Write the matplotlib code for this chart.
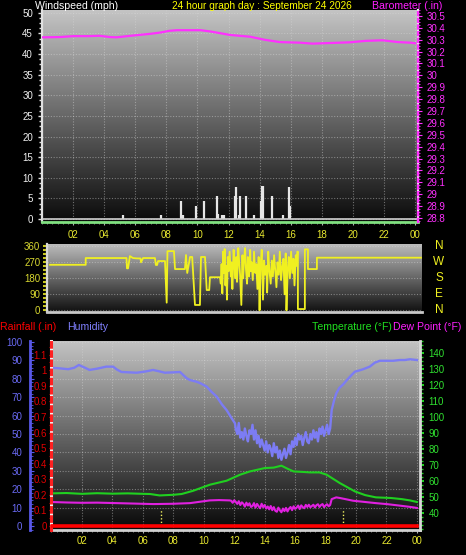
import numpy as np
import matplotlib.pyplot as plt
from matplotlib.colors import LinearSegmentedColormap
from matplotlib.ticker import MultipleLocator, FuncFormatter
from matplotlib.transforms import blended_transform_factory

W, H = 466, 555

# ---- data ------------------------------------------------------------------
hour_ticks = [2, 4, 6, 8, 10, 12, 14, 16, 18, 20, 22, 24]
hour_labels = ['02', '04', '06', '08', '10', '12', '14', '16', '18', '20', '22', '00']

# wind gusts (mph)
gust_hours = [5.19, 7.65, 8.92, 9.07, 9.88, 10.4, 11.25, 11.34, 11.6, 11.7, 12.41, 12.48,
              12.65, 12.71, 13.1, 13.61, 14.06, 14.15, 14.2, 14.77, 15.48, 15.87, 15.95]
gust_speed = [1, 1, 4.4, 1, 3.2, 4.4, 5.6, 1.2, 1, 1, 5.6, 7.8,
              1, 5.6, 5.6, 1, 4.4, 8, 8, 5.6, 1, 7.8, 3.2]

# barometer (in)
baro_hours = [0, 1.1, 2.0, 3.0, 3.7, 4.4, 4.8, 5.7, 7.0, 7.6, 8.2, 8.7, 10.2, 10.8, 12.1,
              13.4, 14.3, 15.3, 16.6, 17.4, 18.5, 19.8, 20.8, 21.9, 22.9, 23.7, 24.0]
baro = [30.32, 30.322, 30.33, 30.33, 30.333, 30.322, 30.32, 30.333, 30.35, 30.36, 30.375,
        30.38, 30.38, 30.37, 30.34, 30.325, 30.30, 30.28, 30.275, 30.267, 30.272, 30.278,
        30.29, 30.295, 30.28, 30.275, 30.27]

# wind direction (deg)
wind_hours = [0.0, 2.31, 2.31, 4.95, 4.98, 5.05, 5.17, 5.37, 5.63, 5.85, 5.89, 6.02, 6.79,
              6.85, 6.93, 6.99, 7.44, 7.55, 7.60, 8.02, 8.09, 8.73, 8.80, 8.88, 9.06, 9.20,
              9.38, 9.70, 9.77, 10.03, 10.14, 10.30, 10.35, 11.00,
              11.05, 11.10, 11.15, 11.20, 11.25, 11.30, 11.35, 11.40, 11.45, 11.50, 11.55,
              11.62, 11.70, 11.75, 11.80, 11.88, 11.95, 12.00, 12.05, 12.10, 12.18, 12.25,
              12.30, 12.38, 12.45, 12.50, 12.55, 12.62, 12.68, 12.75, 12.80, 12.88, 12.95,
              13.00, 13.05, 13.12, 13.20, 13.28, 13.35, 13.42, 13.50, 13.56, 13.62, 13.70,
              13.78, 13.85, 13.92, 14.00, 14.05, 14.12, 14.20, 14.28, 14.35, 14.42, 14.50,
              14.57, 14.65, 14.72, 14.80, 14.87, 14.95, 15.02, 15.10, 15.18, 15.25, 15.30,
              15.38, 15.45, 15.52, 15.60, 15.68, 15.75, 15.82, 15.90, 15.96, 16.00, 16.04,
              16.04, 16.49, 16.49, 16.69, 16.69, 17.27, 17.27, 24.0]
wind_dir = [256, 256, 294, 294, 236, 236, 305, 294, 292, 292, 270, 294, 294,
            255, 255, 277, 277, 43, 333, 333, 232, 232, 311, 210, 300, 300,
            30, 30, 300, 300, 114, 114, 186, 186,
            150, 260, 95, 330, 210, 345, 140, 250, 60, 300, 220,
            330, 190, 270, 120, 340, 240, 180, 300, 160, 350, 260,
            200, 30, 310, 180, 280, 350, 230, 150, 300, 190, 340,
            220, 270, 170, 330, 210, 260, 120, 300, 0, 250, 340,
            60, 280, 200, 250, 100, 330, 220, 150, 280, 190, 310,
            230, 130, 270, 200, 330, 170, 240, 290, 90, 320, 0,
            230, 300, 180, 330, 210, 290, 140, 310, 250, 330, 330,
            7, 7, 343, 343, 232, 232, 296, 296]
compass_labels = ['N', 'W', 'S', 'E', 'N']
compass_deg = [360, 270, 180, 90, 0]

# humidity (%)
hum_hours = [0, 0.5, 1.1, 1.5, 1.8, 2.2, 2.5, 3.0, 3.6, 4.05, 4.3, 4.6, 5.1, 5.6, 6.2, 6.67,
             7.0, 7.45, 8.0, 8.44, 8.88, 9.1, 9.53, 9.8, 10.2, 10.5, 10.85, 11.2, 11.5, 11.8,
             12.05, 12.1, 12.2, 12.3, 12.4, 12.5, 12.6, 12.7, 12.8, 12.9, 13.0, 13.1, 13.2,
             13.3, 13.4, 13.5, 13.6, 13.7, 13.8, 13.9, 14.0, 14.1, 14.2, 14.3, 14.4, 14.5,
             14.6, 14.7, 14.8, 14.9, 15.0, 15.1, 15.2, 15.3, 15.4, 15.5, 15.6, 15.7, 15.8,
             15.9, 16.0, 16.1, 16.2, 16.3, 16.4, 16.5, 16.6, 16.7, 16.8, 16.9, 17.0, 17.1,
             17.2, 17.3, 17.4, 17.5, 17.6, 17.7, 17.8, 17.9, 18.0, 18.1, 18.2, 18.3,
             18.4, 18.55, 18.7, 18.9, 19.16, 19.4, 19.7, 19.93, 20.2, 20.47, 20.9, 21.24,
             21.57, 22.0, 22.44, 22.88, 23.2, 23.54, 24.0]
humidity = [86, 85.7, 85.2, 86, 87.5, 86, 84.8, 85.5, 86.6, 86.6, 85, 83.7, 83.5, 83.3, 84,
            84.8, 84.2, 83.3, 83.5, 83.7, 80.3, 79.3, 78.4, 77.5, 75.7, 73, 70.3, 66, 63, 59,
            55.8, 53, 50, 56, 48, 51, 47, 53, 49, 46, 52, 50, 55,
            47, 52, 45, 49, 43, 47, 44, 41, 46, 40, 44, 42, 38,
            45, 40, 43, 37, 41, 36, 39, 42, 37, 40, 44, 39, 46,
            43, 48, 44, 50, 47, 49, 44, 48, 51, 46, 45, 50, 47,
            52, 48, 51, 46, 53, 50, 54, 49, 52, 55, 50, 53,
            63, 68, 72, 75, 77, 79.3, 82, 83.9, 84.5, 85.2, 86.6, 88.8,
            89.8, 89.8, 89.8, 90.2, 90.2, 90.6, 90.2]

# temperature (F)
temp_hours = [0, 1, 2, 3, 4, 5, 6, 6.47, 7.1, 8.0, 8.55, 9.3, 10.4, 11.5, 12.38, 13.03, 14.0,
              14.6, 15.1, 15.5, 15.9, 16.5, 16.97, 17.6, 18.07, 18.94, 19.93, 20.6, 21.3,
              22.3, 23.0, 23.54, 24.0]
temperature = [52.1, 52.3, 51.8, 52.2, 51.9, 52.1, 51.8, 51.7, 50.8, 51.2, 51.7, 53.7, 57.5,
               60, 63.75, 65.8, 67.9, 68.2, 69.4, 67.5, 65.8, 65.5, 65.2, 65.2, 63.75, 58.5,
               53.3, 51, 49.6, 49.2, 48.5, 47.7, 46.7]

# dew point (F)
dew_hours = [0, 1, 2, 3, 4.28, 5.5, 6.7, 8.0, 9.1, 10.4, 11.0, 11.7,
             11.8, 11.9, 12.0, 12.1, 12.2, 12.3, 12.4, 12.5, 12.6, 12.7, 12.8, 12.9, 13.0,
             13.1, 13.2, 13.3, 13.4, 13.5, 13.6, 13.7, 13.8, 13.9, 14.0, 14.1, 14.2, 14.3,
             14.4, 14.5, 14.6, 14.7, 14.8, 14.9, 15.0, 15.1, 15.2, 15.3, 15.4, 15.5, 15.6,
             15.7, 15.8, 15.9, 16.0, 16.1, 16.2, 16.3, 16.4, 16.5, 16.6, 16.7, 16.8, 16.9,
             17.0, 17.1, 17.2, 17.3, 17.4, 17.5, 17.6, 17.7, 17.8, 17.9, 18.0, 18.1, 18.2,
             18.3, 18.4, 18.7, 18.94, 19.4, 19.8, 20.5, 21.3, 22.1, 22.9, 23.5, 24.0]
dew_point = [46.7, 46.4, 46.2, 46.3, 46, 45.7, 45.4, 45.6, 46, 47.7, 47.9, 47.7,
             47.5, 46.2, 47.8, 46.8, 45.5, 47.2, 44.8, 46.5, 45.6, 43.8, 46.3, 44.5, 45.9,
             43.6, 44.2, 46, 43.2, 45.5, 44.1, 42.8, 45.6, 43.5, 44.8, 42.6, 43.9, 42.1,
             44.2, 41.6, 43.5, 41.2, 40.6, 43.2, 41.5, 40.3, 42.6, 41, 43, 40.8, 42.5,
             43.6, 41.6, 44, 42.4, 43.2, 44.5, 42.3, 44.6, 43.5, 42.8, 44.9, 43.6, 45,
             43.4, 44.2, 45, 43.3, 44.7, 45.3, 43.6, 44.8, 45.4, 43.5, 44.6, 45.3, 44,
             44.8, 48.5, 49.6, 49.2, 48.3, 47.5, 46.8, 46, 45.3, 44.4, 43.7, 43]

# rainfall (in)
rain_hours = [0, 24]
rainfall = [0, 0]

# sunrise / sunset markers
sun_hours = [7.19, 19.12]

# ---- styling helpers -------------------------------------------------------
plt.rcParams['font.family'] = ['Liberation Sans', 'DejaVu Sans']
TICKFONT = ['Liberation Sans Narrow', 'Liberation Sans', 'DejaVu Sans']
YELLOW = '#e8e830'
GRID = dict(color='#d8d8d8', alpha=0.45, lw=0.8, ls=(0, (1, 1.5)))


def box(l, t, r, b):
    return [l / W, 1 - b / H, (r - l) / W, (b - t) / H]


def shade(ax, top, bottom):
    cmap = LinearSegmentedColormap.from_list('g', [bottom, top])
    grad = np.linspace(0, 1, 256)[:, None]
    ax.imshow(grad, cmap=cmap, extent=[0, 1, 0, 1], transform=ax.transAxes,
              aspect='auto', origin='lower', zorder=0, interpolation='bilinear')


def ticklabels(ax, color, axis='y'):
    labels = ax.get_yticklabels() if axis == 'y' else ax.get_xticklabels()
    for t in labels:
        t.set_fontfamily(TICKFONT)
        t.set_color(color)
        t.set_fontsize(7)


fig = plt.figure(figsize=(W / 100, H / 100), dpi=100, facecolor='black')

# ---- top panel: windspeed + barometer ----------------------------------------
ax_w = fig.add_axes(box(42, 10, 418, 222))
ax_w.set_facecolor('black')
shade(ax_w, '#c4c4c4', '#0a0a0a')
ax_w.vlines(gust_hours, 0, gust_speed, color='#e6e6e6', lw=1.6, zorder=3)
ax_w.axhline(0, color='#d0d0d0', lw=1.2, zorder=3)
ax_w.set_xlim(0, 24.19)
ax_w.set_ylim(-0.73, 50.7)
ax_w.yaxis.set_major_locator(MultipleLocator(5))
ax_w.yaxis.set_minor_locator(MultipleLocator(1.25))
ax_w.set_xticks(hour_ticks)
ax_w.set_xticklabels(hour_labels)
ax_w.xaxis.set_minor_locator(MultipleLocator(1 / 3))
ax_w.grid(True, which='major', **GRID)
ax_w.tick_params(axis='y', which='major', colors='#e0e0e0', length=3, width=1, pad=3.5)
ax_w.tick_params(axis='y', which='minor', colors='#e0e0e0', length=2, width=1)
ax_w.tick_params(axis='x', which='major', colors='#b0b0b0', length=2, pad=3.5)
ax_w.tick_params(axis='x', which='minor', colors='#909090', length=1.5)
ticklabels(ax_w, '#f0f0f0')
ticklabels(ax_w, YELLOW, 'x')
for s in ['top', 'right']:
    ax_w.spines[s].set_visible(False)
ax_w.spines['left'].set_color('#e0e0e0')
ax_w.spines['left'].set_linewidth(1.6)
ax_w.spines['bottom'].set_color('#80e080')
ax_w.spines['bottom'].set_linewidth(2)

ax_p = ax_w.twinx()
ax_p.plot(baro_hours, baro, color='#ff30ff', lw=1.6, zorder=3)
ax_p.set_ylim(28.766, 30.55)
ax_p.yaxis.set_major_locator(MultipleLocator(0.1))
ax_p.yaxis.set_minor_locator(MultipleLocator(0.025))
ax_p.yaxis.set_major_formatter(FuncFormatter(lambda v, p: '%g' % round(v, 2)))
ax_p.tick_params(axis='y', which='major', colors='#ff30ff', length=3, pad=3)
ax_p.tick_params(axis='y', which='minor', colors='#ff30ff', length=1.5)
ticklabels(ax_p, '#ff30ff')
for s in ['top', 'left', 'bottom']:
    ax_p.spines[s].set_visible(False)
ax_p.plot([1, 1], [0, 1], transform=ax_p.transAxes, color='#f0f0f0', lw=1.6,
          clip_on=False, zorder=2.4)
ax_p.spines['right'].set_color('#ff30ff')
ax_p.spines['right'].set_linewidth(1.6)
ax_p.spines['right'].set_linestyle((0, (1.5, 1.5)))

fig.text(35 / W, 1 - 9 / H, 'Windspeed (mph)', color='white', fontsize=7.6, va='baseline')
fig.text(172 / W, 1 - 9 / H, '24 hour graph day : September 24 2026', color='#ffff00',
         fontsize=7.3, va='baseline')
fig.text(372 / W, 1 - 9 / H, 'Barometer (.in)', color='#ff20ff', fontsize=7.6, va='baseline')

# ---- middle panel: wind direction ------------------------------------------
ax_d = fig.add_axes(box(47.3, 244, 421.7, 312))
ax_d.set_facecolor('black')
shade(ax_d, '#bcbcbc', '#101010')
ax_d.plot(wind_hours, wind_dir, color='#f0f020', lw=1.3, zorder=3)
ax_d.set_xlim(-0.175, 24.05)
ax_d.set_ylim(-9.6, 373)
ax_d.set_yticks([0, 90, 180, 270, 360])
ax_d.yaxis.set_minor_locator(MultipleLocator(22.5))
ax_d.set_xticks([])
ax_d.grid(True, axis='y', which='major', **GRID)
ax_d.tick_params(axis='y', which='major', colors='#c8c820', length=3, width=1.5, pad=2)
ax_d.tick_params(axis='y', which='minor', colors='#c8c820', length=3, width=1.5)
ticklabels(ax_d, '#d8d830')
for s in ['top', 'right']:
    ax_d.spines[s].set_visible(False)
ax_d.spines['left'].set_color('#d8d8d8')
ax_d.spines['left'].set_linewidth(1.6)
ax_d.spines['bottom'].set_color('#c8c8c8')
ax_d.spines['bottom'].set_linewidth(2)
tr = blended_transform_factory(ax_d.transAxes, ax_d.transData)
for lab, deg in zip(compass_labels, compass_deg):
    ax_d.text(1.046, deg, lab, transform=tr, color='#f0f020', fontsize=8.5,
              ha='center', va='center', clip_on=False)

# ---- bottom panel: humidity, temperature, dew point, rain --------------------
ax_h = fig.add_axes(box(51, 340.7, 420, 530))
ax_h.set_facecolor('black')
shade(ax_h, '#c4c4c4', '#070707')
ax_h.plot(hum_hours, humidity, color='#7c7cf4', lw=1.7, zorder=3)
ax_h.set_xlim(-0.03, 24.2)
ax_h.set_ylim(-2.17, 100.7)
ax_h.yaxis.set_major_locator(MultipleLocator(10))
ax_h.yaxis.set_minor_locator(MultipleLocator(2))
ax_h.set_xticks(hour_ticks)
ax_h.set_xticklabels(hour_labels)
ax_h.xaxis.set_minor_locator(MultipleLocator(1 / 3))
ax_h.grid(True, which='major', **GRID)
ax_h.spines['left'].set_position(('axes', -21 / 369))
ax_h.spines['left'].set_color('#5858e8')
ax_h.spines['left'].set_linewidth(2)
ax_h.tick_params(axis='y', which='major', direction='in', colors='#5858e8', length=3,
                 pad=5.5)
ax_h.tick_params(axis='y', which='minor', direction='in', colors='#5858e8', length=2)
ax_h.tick_params(axis='x', which='major', colors='#b0b0b0', length=2, pad=2.5)
ax_h.tick_params(axis='x', which='minor', colors='#909090', length=1.5)
ticklabels(ax_h, '#6a6af4')
ticklabels(ax_h, YELLOW, 'x')
for s in ['top', 'right']:
    ax_h.spines[s].set_visible(False)
ax_h.spines['bottom'].set_color('#d0d0d0')
ax_h.spines['bottom'].set_linewidth(2)

ax_t = ax_h.twinx()
ax_t.plot(temp_hours, temperature, color='#20d020', lw=1.5, zorder=3)
ax_t.plot(dew_hours, dew_point, color='#e020e0', lw=1.5, zorder=3)
for h in sun_hours:
    ax_t.axvline(h, ymin=0.02, ymax=0.11, color='#f0f060', lw=1, ls=(0, (1, 1.5)))
ax_t.set_ylim(29.2, 147.5)
ax_t.yaxis.set_major_locator(MultipleLocator(10))
ax_t.yaxis.set_minor_locator(MultipleLocator(2.5))
ax_t.set_yticks(range(40, 141, 10))
ax_t.tick_params(axis='y', which='major', colors='#20d020', length=3, width=1.5, pad=3)
ax_t.tick_params(axis='y', which='minor', colors='#20d020', length=2, width=1)
ticklabels(ax_t, '#30e030')
for s in ['top', 'left', 'bottom']:
    ax_t.spines[s].set_visible(False)
ax_t.spines['right'].set_color('#d8d8d8')
ax_t.spines['right'].set_linewidth(2)

ax_r = ax_h.twinx()
ax_r.plot(rain_hours, rainfall, color='#ff0000', lw=2.6, zorder=3)
ax_r.set_ylim(-0.026, 1.19)
ax_r.yaxis.tick_left()
ax_r.set_yticks(np.arange(0, 1.15, 0.1))
ax_r.yaxis.set_minor_locator(MultipleLocator(0.05))
ax_r.yaxis.set_major_formatter(FuncFormatter(lambda v, p: '%g' % round(v, 2)))
ax_r.tick_params(axis='y', which='major', colors='#e00000', length=1.5, pad=1.5)
ax_r.tick_params(axis='y', which='minor', colors='#e00000', length=1.5)
ticklabels(ax_r, '#e00000')
for s in ['top', 'right', 'bottom']:
    ax_r.spines[s].set_visible(False)
ax_r.plot([0, 0], [0, 1], transform=ax_r.transAxes, color='#f0f0f0', lw=2.2,
          clip_on=False, zorder=2.4)
ax_r.spines['left'].set_visible(True)
ax_r.spines['left'].set_color('#ff2020')
ax_r.spines['left'].set_linewidth(2.2)
ax_r.spines['left'].set_linestyle((0, (1.5, 1.5)))

fig.text(0, 1 - 330 / H, 'Rainfall (.in)', color='#ff0000', fontsize=7.6, va='baseline')
fig.text(67 / W, 1 - 330 / H, 'Humidity', color='#8080ff', fontsize=7.6, va='baseline')
fig.text(312 / W, 1 - 330 / H, 'Temperature (°F)', color='#20e020', fontsize=7.6,
         va='baseline')
fig.text(393 / W, 1 - 330 / H, 'Dew Point (°F)', color='#ff20ff', fontsize=7.6,
         va='baseline')

fig.savefig('out.png', dpi=100, facecolor='black')
